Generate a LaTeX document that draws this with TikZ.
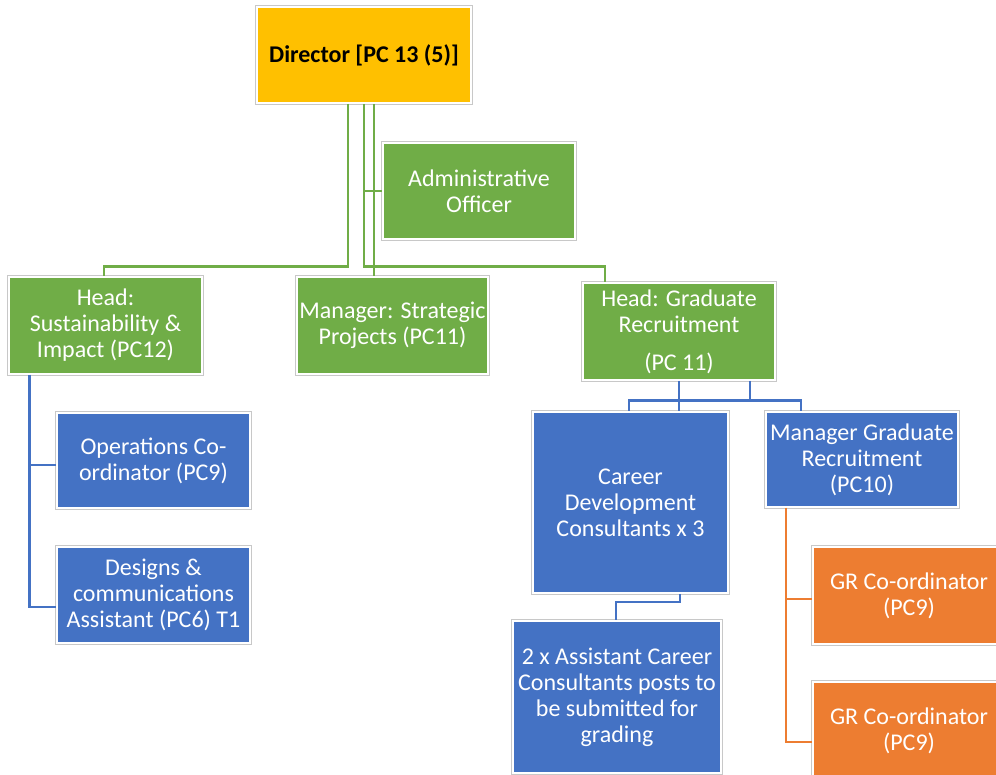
\documentclass[tikz,border=0pt]{standalone}
\usepackage{fontspec}
\setmainfont{Carlito}
\definecolor{cgold}{HTML}{FFC000}
\definecolor{cgreen}{HTML}{70AD47}
\definecolor{cblue}{HTML}{4472C4}
\definecolor{corange}{HTML}{ED7D31}
\definecolor{cedge}{HTML}{C8C8C8}
\tikzset{
  box/.style={rectangle, inner sep=0pt, align=center, text=white,
    font=\fontsize{24}{26}\selectfont, draw=white, line width=1.6pt,
    preaction={draw=cedge, line width=3.2pt}},
  gbox/.style={box, fill=cgreen},
  bbox/.style={box, fill=cblue},
  obox/.style={box, fill=corange},
  ybox/.style={box, fill=cgold, text=black, font=\fontsize{24}{26}\selectfont\bfseries},
  gline/.style={draw=cgreen, line width=2.6pt},
  bline/.style={draw=cblue, line width=2.6pt},
  oline/.style={draw=corange, line width=2.6pt},
}
\begin{document}
\begin{tikzpicture}[x=1pt,y=-1pt]
\useasboundingbox (0,0) rectangle (996,775);
\clip (0,0) rectangle (996,775);
% nodes
\node[ybox, minimum width=214, minimum height=96] (dir) at (364,55) {Director [PC 13 (5)]};
\node[gbox, minimum width=192, minimum height=96] (adm) at (479,191) {Administrative\\Officer};
\node[gbox, minimum width=193, minimum height=97] (hs) at (105.5,325.5) {Head:\\Sustainability \&\\Impact (PC12)};
\node[gbox, minimum width=191, minimum height=97] (ms) at (392.5,325.5) {Manager: Strategic\\Projects (PC11)};
\node[gbox, minimum width=192, minimum height=97] (hg) at (679,331.5) {Head: Graduate\\Recruitment\\[12pt](PC 11)};
\node[bbox, minimum width=193, minimum height=95] (ops) at (153.5,460.5) {Operations Co-\\ordinator (PC9)};
\node[bbox, minimum width=193, minimum height=96] (des) at (153.5,595) {Designs \&\\communications\\Assistant (PC6) T1};
\node[bbox, minimum width=195, minimum height=181] (cd) at (630.5,502.5) {Career\\Development\\Consultants x 3};
\node[bbox, minimum width=192, minimum height=95] (mgr) at (862,459.5) {Manager Graduate\\Recruitment\\(PC10)};
\node[bbox, minimum width=208, minimum height=152] (acc) at (617,697) {2 x Assistant Career\\Consultants posts to\\be submitted for\\grading};
\node[obox, minimum width=192, minimum height=97] (gr1) at (909,595.5) {GR Co-ordinator\\(PC9)};
\node[obox, minimum width=192, minimum height=97] (gr2) at (909,730.5) {GR Co-ordinator\\(PC9)};
% green connectors
\draw[gline] ([xshift=-16pt]dir.south) -- ++(0,163) -| ([xshift=-1.5pt]hs.north);
\draw[gline] (dir.south) -- ++(0,163) -| ([xshift=-74pt]hg.north);
\draw[gline] ([xshift=10pt]dir.south) -- ([xshift=-18.5pt]ms.north);
\draw[gline] (dir.south |- adm.west) -- (adm.west);
% blue connectors
\draw[bline] ([xshift=-76pt]hs.south) |- ([yshift=-4.5pt]ops.west);
\draw[bline] ([xshift=-76pt]hs.south) |- ([yshift=-12pt]des.west);
\draw[bline] (hg.south) -- (hg.south |- cd.north);
\draw[bline] ([xshift=71pt]hg.south) -- ++(0,20) -| ([xshift=-1.5pt]cd.north);
\draw[bline] ([xshift=71pt]hg.south) -- ++(0,20) -| ([xshift=-61pt]mgr.north);
\draw[bline] ([xshift=49.5pt]cd.south) -- ++(0,8) -| ([xshift=-1pt]acc.north);
% orange connectors
\draw[oline] ([xshift=-76pt]mgr.south) |- ([yshift=-3.5pt]gr1.west);
\draw[oline] ([xshift=-76pt]mgr.south) |- ([yshift=-11.5pt]gr2.west);
\end{tikzpicture}
\end{document}
